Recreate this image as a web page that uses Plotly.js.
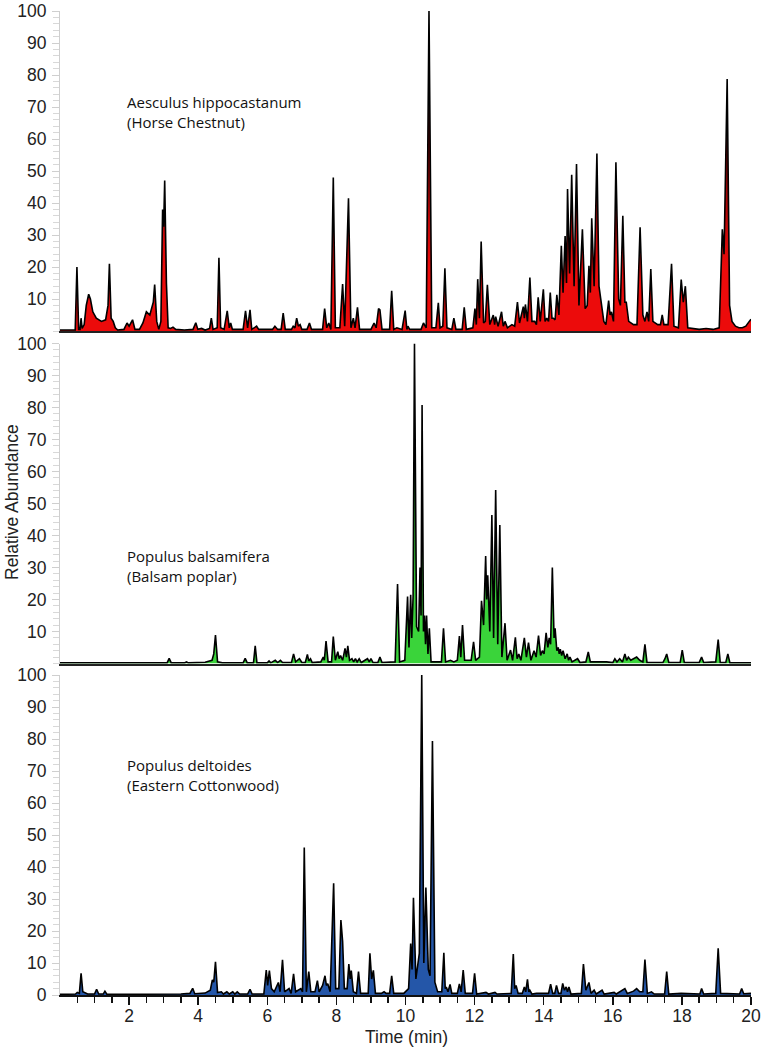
<!DOCTYPE html>
<html>
<head>
<meta charset="utf-8">
<script src="https://cdn.plot.ly/plotly-3.0.1.min.js"></script>
<style>html,body{margin:0;padding:0;background:#fff;}#chart{width:765px;height:1050px;}</style>
</head>
<body>
<div id="chart"></div>
<script>
// ---- Data (retention time in min, relative abundance in %) ----
const horseChestnutTime = [0,0.44,0.49,0.54,0.58,0.61,0.64,0.70,0.76,0.83,0.88,0.95,1.05,1.2,1.32,1.39,1.43,1.48,1.54,1.6,1.67,1.85,1.94,2.0,2.1,2.17,2.3,2.4,2.5,2.6,2.7,2.74,2.8,2.86,2.92,2.97,3.0,3.03,3.08,3.13,3.2,3.27,3.35,3.6,3.85,3.93,3.99,4.1,4.2,4.33,4.38,4.43,4.55,4.6,4.65,4.75,4.84,4.9,4.94,4.99,5.1,5.3,5.37,5.43,5.5,5.55,5.69,5.75,6.15,6.22,6.3,6.4,6.46,6.52,6.7,6.75,6.8,6.85,6.9,6.95,7.0,7.15,7.22,7.28,7.6,7.66,7.72,7.78,7.84,7.91,7.97,8.1,8.18,8.24,8.35,8.42,8.49,8.54,8.61,8.67,9.0,9.09,9.15,9.22,9.26,9.32,9.54,9.6,9.66,9.75,9.9,9.99,10.04,10.07,10.12,10.45,10.52,10.6,10.68,10.76,10.88,10.95,11.0,11.08,11.14,11.2,11.34,11.4,11.46,11.64,11.7,11.76,11.95,12.01,12.05,12.09,12.14,12.19,12.26,12.31,12.37,12.44,12.54,12.58,12.61,12.68,12.78,12.83,12.88,12.95,13.08,13.16,13.24,13.3,13.41,13.44,13.47,13.53,13.6,13.66,13.74,13.79,13.84,13.9,13.99,14.04,14.09,14.14,14.19,14.24,14.28,14.33,14.38,14.44,14.51,14.56,14.62,14.66,14.69,14.75,14.81,14.88,14.95,15.02,15.12,15.2,15.26,15.31,15.35,15.39,15.46,15.54,15.6,15.66,15.74,15.8,15.88,15.92,15.96,16.02,16.09,16.17,16.22,16.29,16.35,16.39,16.46,16.6,16.7,16.79,16.87,16.93,16.99,17.04,17.1,17.16,17.3,17.38,17.43,17.48,17.6,17.7,17.77,17.9,17.98,18.04,18.1,18.17,18.3,18.5,18.7,18.9,19.08,19.14,19.17,19.22,19.31,19.38,19.45,19.55,19.65,19.75,19.85,19.95,20.0];
const horseChestnutAbund = [0.3,0.3,20,0.5,0.5,4,0.8,2,8,11.5,10,6,4,3,3.5,8,21,4,3,1,0.3,0.5,2.5,1.5,3.5,0.5,0.5,2.5,6,5,9,14.5,3,0.5,3,38,32.6,47,15,1,0.8,1.2,0.5,0.3,0.5,2.6,0.5,0.8,0.3,0.8,4,0.5,1,22.9,1,0.5,6.3,1,2.5,0.5,0.5,0.5,6.3,1,6.6,0.5,1.5,0.5,0.5,1.5,0.5,0.5,5.6,0.5,0.5,1.5,1,4,1.5,2,0.5,0.5,2.5,0.5,0.5,7,1,2.5,0.5,48,1,1,14.7,1.5,41.5,1,4,1,7.4,0.5,0.5,2.5,1,7,6.6,0.5,0.5,12.6,0.5,1,0.5,6.4,0.5,1.5,0.5,0.5,2.5,1,100,1,1,8.8,1,1.5,19.6,1,0.5,4,0.5,0.5,7.4,0.5,1,7,2,16.2,4,28,2.5,3,14.4,2,5,2,4.5,1.5,6,1.5,3,1,2,1.5,9,2.5,7.6,4,8.3,3,16.7,3,3,2,10.5,3,13,3,4,3,12,4,4,3.5,11.3,5,26.6,12,29.7,15,44.4,18,48.8,14,52.2,8,31.8,7,8,20.4,12,35.2,14,55.5,14,9,3,2,9.5,5,6,3,52.7,10,8,36,9,9,3,2,2,32.4,5,3,6,3,19.4,3,2,2,5,2,2,21,1.5,1,16.1,9,14,1,0.8,0.5,0.8,0.5,1,20,31.8,24,78.75,8,3,1.5,1,1,1.5,3,3.7];

const balsamPoplarTime = [0,0.6,0.63,0.7,2.0,2.5,3.1,3.16,3.22,3.6,3.66,3.72,4.2,4.4,4.45,4.5,4.56,4.7,5.3,5.36,5.42,5.6,5.65,5.7,6.0,6.05,6.1,6.23,6.3,6.38,6.44,6.7,6.76,6.82,6.93,7.0,7.1,7.16,7.2,7.25,7.3,7.55,7.62,7.65,7.7,7.76,7.86,7.91,7.97,8.04,8.08,8.12,8.18,8.25,8.29,8.33,8.38,8.45,8.5,8.55,8.6,8.66,8.72,8.9,8.95,9.0,9.06,9.2,9.26,9.32,9.5,9.6,9.7,9.77,9.83,9.98,10.06,10.1,10.15,10.18,10.22,10.26,10.32,10.38,10.42,10.45,10.48,10.52,10.55,10.58,10.61,10.65,10.69,10.74,11.04,11.1,11.16,11.3,11.4,11.5,11.56,11.6,11.65,11.71,11.9,11.97,12.03,12.14,12.2,12.26,12.32,12.35,12.38,12.44,12.5,12.55,12.61,12.67,12.73,12.79,12.88,12.94,13.04,13.1,13.18,13.23,13.28,13.34,13.44,13.5,13.56,13.63,13.72,13.78,13.85,13.91,13.96,14.01,14.07,14.12,14.16,14.2,14.25,14.3,14.33,14.38,14.42,14.45,14.48,14.52,14.56,14.62,14.68,14.72,14.76,14.82,14.98,15.05,15.22,15.29,15.35,15.82,16.0,16.06,16.12,16.2,16.28,16.35,16.4,16.45,16.52,16.6,16.69,16.78,16.87,16.93,16.99,17.45,17.51,17.56,17.62,17.95,18.01,18.07,18.5,18.57,18.63,18.98,19.05,19.11,19.27,19.33,19.39,20];
const balsamPoplarAbund = [0.2,0.2,0.4,0.2,0.2,0.3,0.2,1.6,0.2,0.2,0.5,0.2,0.4,1,3,8.9,0.5,0.2,0.2,1.6,0.2,0.2,5.5,0.2,0.2,0.8,0.2,1,0.3,1,0.3,0.3,3,0.5,1.5,0.3,0.3,2.8,0.8,1.5,0.3,0.5,2,1,7,0.5,0.5,8.4,1,3.7,1.5,2.5,1,4.7,2,5.5,1,1.5,0.5,1.5,0.5,1.5,0.3,1.5,0.5,1.5,0.3,0.3,2,0.3,0.5,0.5,0.5,24.8,0.5,1,20.9,5,21.5,8,21,100,11.5,10,30,15,80.8,10,15,6,15,3,11,0.5,0.5,11,0.5,1,0.5,1,8.6,2,12,1,1,6.8,1,2,19.6,12,33.6,20,27.6,10,46.4,8,54.2,6,43.3,2,12.6,1,4.2,1,8.2,1.5,3,1,8,2,6.5,1,4,2,8.7,2.5,4,3,9.6,5,8,6,30,8,11,4,5,3,4.5,2.5,4,1.5,3,1,2,0.5,1.5,0.3,0.5,3.6,0.5,0.5,0.3,1.5,0.5,1.5,0.5,3,1,2,1,1.5,2,1,0.5,6,0.3,0.3,1.5,3,0.3,0.3,4.2,0.3,0.3,2,0.3,0.5,7.5,0.3,0.3,3,0.2,0.2];

const cottonwoodTime = [0,0.45,0.5,0.56,0.61,0.66,0.8,1.0,1.06,1.12,1.25,1.3,1.36,2.5,3.5,3.76,3.84,3.9,4.2,4.35,4.41,4.45,4.5,4.56,4.67,4.73,4.83,4.9,5.0,5.06,5.13,5.2,5.43,5.5,5.56,5.9,5.97,6.01,6.06,6.12,6.2,6.32,6.37,6.44,6.5,6.63,6.69,6.76,6.82,6.97,7.02,7.07,7.13,7.2,7.26,7.38,7.45,7.5,7.6,7.67,7.71,7.75,7.82,7.92,7.98,8.07,8.13,8.18,8.23,8.31,8.36,8.4,8.43,8.49,8.58,8.64,8.7,8.92,8.97,9.02,9.07,9.13,9.3,9.38,9.44,9.54,9.6,9.66,9.95,10.09,10.15,10.19,10.23,10.3,10.4,10.47,10.53,10.59,10.66,10.71,10.78,10.85,10.93,11.05,11.11,11.15,11.18,11.23,11.29,11.34,11.5,11.56,11.61,11.67,11.73,11.94,12.0,12.06,12.33,12.4,12.59,12.65,13.06,13.12,13.16,13.2,13.26,13.38,13.44,13.48,13.53,13.57,13.6,13.66,13.79,14.14,14.2,14.26,14.32,14.37,14.43,14.5,14.55,14.6,14.65,14.69,14.73,14.79,15.09,15.15,15.22,15.31,15.37,15.46,15.52,15.69,15.75,16.04,16.1,16.35,16.42,16.6,16.69,16.78,16.87,16.93,17.0,17.12,17.2,17.5,17.56,17.62,17.98,18.52,18.57,18.63,18.98,19.05,19.12,19.67,19.73,19.79,19.9,20];
const cottonwoodAbund = [0.2,0.3,0.8,0.5,6.8,1,0.3,0.3,1.8,0.3,0.3,1.2,0.2,0.2,0.3,0.5,2.1,0.4,0.6,1.5,4.7,4,10.4,0.8,1,0.3,1,0.3,1,0.3,1,0.3,0.3,1.8,0.3,0.3,7.8,3,7.6,2,1,3.9,1,11,1,2,0.5,6.6,1,2,1,46.1,1,7.3,1,1,4.5,1,3,6,3,3.5,1,34.9,2,2,23.4,16.7,2,2,9.7,5,7.6,1,0.5,7.3,0.5,0.5,13,5,7.7,0.5,0.5,1,0.5,0.5,6,0.5,0.5,2,16.1,8,30.4,5,13,100,10,33.6,8,6,79.4,4,1,1,13.2,2,2.5,1,3.3,0.5,0.5,3.5,1,7.8,0.5,0.5,6.8,0.3,0.8,0.3,0.8,0.3,0.5,12.8,2,3,0.5,0.5,2.5,1,4.9,1,1.5,0.3,0.5,0.5,3.4,0.5,0.5,3,0.5,0.5,3.6,1.5,2.5,1,2.5,0.3,0.5,9.7,1.5,3.9,0.5,1.5,0.3,1.5,0.3,0.8,0.3,2,0.5,1.2,2,1,1,11.1,0.5,1,0.3,0.3,7.3,0.3,0.5,0.3,2,0.3,0.5,14.6,0.5,0.3,2,0.4,0.5,0.5];

const speciesLabels = ["Aesculus hippocastanum<br>(Horse Chestnut)", "Populus balsamifera<br>(Balsam poplar)", "Populus deltoides<br>(Eastern Cottonwood)"];
const xTickVals = [2,4,6,8,10,12,14,16,18,20];
const xMinorVals = [0.5,1,1.5,2.5,3,3.5,4.5,5,5.5,6.5,7,7.5,8.5,9,9.5,10.5,11,11.5,12.5,13,13.5,14.5,15,15.5,16.5,17,17.5,18.5,19,19.5];
const yTickValsUpper = [10,20,30,40,50,60,70,80,90,100];
const yTickValsBottom = [0,10,20,30,40,50,60,70,80,90,100];

// ---- Traces ----
function chromTrace(x, y, fillColor, darkColor, xa, ya) {
  return {
    type: 'scatter', mode: 'lines', x: x, y: y, xaxis: xa, yaxis: ya,
    line: {color: '#000', width: 1.6},
    fill: 'tozeroy',
    fillcolor: fillColor,
    fillgradient: {type: 'vertical', start: 0, stop: 100,
      colorscale: [[0, fillColor], [0.2, fillColor], [0.6, darkColor], [1, '#111']]},
    hoverinfo: 'skip', showlegend: false
  };
}
const traces = [
  chromTrace(horseChestnutTime, horseChestnutAbund, '#ec0b0b', '#6a0000', 'x3', 'y3'),
  chromTrace(balsamPoplarTime, balsamPoplarAbund, '#3ad43a', '#1a5a1a', 'x2', 'y2'),
  chromTrace(cottonwoodTime, cottonwoodAbund, '#2456a8', '#142e5e', 'x', 'y')
];

const tickFont = {family: 'Liberation Sans, Arial, sans-serif', size: 17.5, color: '#222'};
const figH = 1050, mT = 11, mB = 55;
const plotH = figH - mT - mB;
function dom(topPx, botPx) { return [(figH - mB - botPx) / plotH, (figH - mB - topPx) / plotH]; }

function yAx(domain, vals, anchor) {
  return {
    domain: domain, range: [0, 100], anchor: anchor,
    showgrid: false, zeroline: false,
    showline: true, linecolor: '#cfcfcf', linewidth: 1,
    tickmode: 'array', tickvals: vals, ticks: 'outside', ticklen: 7, tickcolor: '#cfcfcf', tickwidth: 1,
    minor: {tickmode: 'linear', tick0: 0, dtick: 2, ticks: 'outside', ticklen: 6, tickcolor: '#d8d8d8', tickwidth: 1, showgrid: false},
    tickfont: tickFont, ticklabelstandoff: 2, fixedrange: true
  };
}
function xAxUpper(anchor) {
  return {
    range: [0, 20], anchor: anchor, matches: 'x',
    showgrid: false, zeroline: false, showticklabels: false, ticks: '',
    showline: true, linecolor: '#222', linewidth: 2, fixedrange: true
  };
}

const layout = {
  width: 765, height: 1050,
  margin: {l: 60, r: 14, t: mT, b: mB},
  paper_bgcolor: '#fff', plot_bgcolor: 'rgba(0,0,0,0)',
  showlegend: false,
  xaxis: {
    domain: [0, 1], range: [0, 20], anchor: 'y',
    showgrid: false, zeroline: false,
    showline: true, linecolor: '#111', linewidth: 1.5,
    tickmode: 'array', tickvals: xTickVals, ticks: 'outside', ticklen: 8, tickwidth: 1.5, tickcolor: '#111',
    minor: {tickmode: 'array', tickvals: xMinorVals, ticks: 'outside', ticklen: 6, tickwidth: 1.5, tickcolor: '#111', showgrid: false},
    tickfont: tickFont, ticklabelstandoff: -4, fixedrange: true
  },
  xaxis2: xAxUpper('y2'),
  xaxis3: xAxUpper('y3'),
  yaxis: yAx(dom(675, 995), yTickValsBottom, 'x'),
  yaxis2: yAx(dom(343.5, 663.5), yTickValsUpper, 'x2'),
  yaxis3: yAx(dom(11, 331), yTickValsUpper, 'x3'),
  annotations: [
    {text: speciesLabels[0], xref: 'paper', yref: 'paper', x: 0.094, y: (figH - mB - 111.7) / plotH,
     xanchor: 'left', yanchor: 'middle', align: 'left', showarrow: false,
     font: {family: 'Open Sans, Noto Sans, sans-serif', size: 15, color: '#111'}},
    {text: speciesLabels[1], xref: 'paper', yref: 'paper', x: 0.094, y: (figH - mB - 565.7) / plotH,
     xanchor: 'left', yanchor: 'middle', align: 'left', showarrow: false,
     font: {family: 'Open Sans, Noto Sans, sans-serif', size: 15, color: '#111'}},
    {text: speciesLabels[2], xref: 'paper', yref: 'paper', x: 0.094, y: (figH - mB - 774.5) / plotH,
     xanchor: 'left', yanchor: 'middle', align: 'left', showarrow: false,
     font: {family: 'Open Sans, Noto Sans, sans-serif', size: 15, color: '#111'}},
    {text: 'Relative Abundance', xref: 'paper', yref: 'paper', x: (12 - 60) / 691, y: (figH - mB - 502) / plotH,
     xanchor: 'center', yanchor: 'middle', textangle: -90, showarrow: false,
     font: {family: 'Liberation Sans, Arial, sans-serif', size: 17.5, color: '#222'}},
    {text: 'Time (min)', xref: 'paper', yref: 'paper', x: (406.5 - 60) / 691, y: (figH - mB - 1037) / plotH,
     xanchor: 'center', yanchor: 'middle', showarrow: false,
     font: {family: 'Liberation Sans, Arial, sans-serif', size: 17.5, color: '#222'}}
  ]
};

Plotly.newPlot('chart', traces, layout, {displayModeBar: false, staticPlot: true});
</script>
</body>
</html>
